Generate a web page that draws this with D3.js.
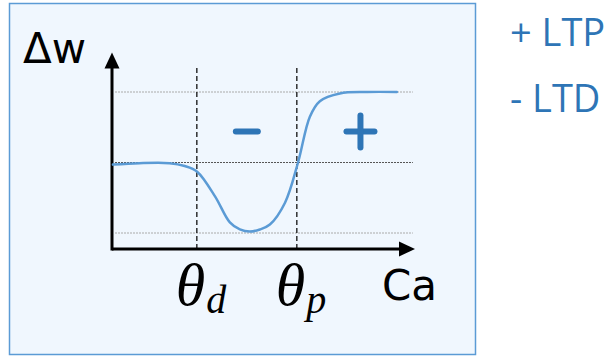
<!DOCTYPE html>
<html>
<head>
<meta charset="utf-8">
<script src="https://cdn.jsdelivr.net/npm/d3@7"></script>
<style>
html,body{margin:0;padding:0;background:#fff;}
svg{display:block;}
</style>
</head>
<body>
<svg id="chart" width="615" height="361"></svg>
<script>
// Data (Ca in arbitrary units 0..100, Δw normalised: -1 = LTD max, +1 = LTP max)
const curveCa = [0.3, 9, 19, 24, 28.1, 34, 38.9, 42.2, 45.5, 48.8, 52.1, 57.1, 61.4, 65.3, 68.6, 75.2, 84.2, 94];
const curveDw = [-0.03, -0.01, -0.01, -0.05, -0.13, -0.48, -0.85, -0.95, -0.98, -0.95, -0.88, -0.57, 0.0, 0.65, 0.87, 0.98, 1.0, 1.0];
const thresholds = [28, 61];
const thresholdNames = ["d", "p"];
const refLevels = [1, 0, -1];
const legendItems = ["+ LTP", "- LTD"];
const regionSigns = [{ca: 44.5, sign: "-"}, {ca: 82, sign: "+"}];

const svg = d3.select("#chart");
const x = d3.scaleLinear().domain([0, 100]).range([112, 415]);
const y = d3.scaleLinear().domain([-1, 1]).range([233, 92]);
const yAxisVal = -1.227, yTop = 1.56;

// box
svg.append("rect").attr("x", 9.5).attr("y", 3.5).attr("width", 466).attr("height", 351)
  .attr("fill", "#f0f7fe").attr("stroke", "#5b9bd5").attr("stroke-width", 1.5);

// reference horizontal lines
svg.selectAll(".ref").data(refLevels).enter().append("line")
  .attr("x1", x(1)).attr("x2", x(99.3))
  .attr("y1", d => y(d)).attr("y2", d => y(d))
  .attr("stroke", d => d === 0 ? "#555" : "#aaa")
  .attr("stroke-width", 1)
  .attr("stroke-dasharray", "2,1");

// threshold dashed lines
svg.selectAll(".thr").data(thresholds).enter().append("line")
  .attr("x1", d => x(d)).attr("x2", d => x(d))
  .attr("y1", 68).attr("y2", y(yAxisVal))
  .attr("stroke", "#111").attr("stroke-width", 1.3)
  .attr("stroke-dasharray", "5,3");

// axes
const ax = svg.append("g");
ax.append("line").attr("x1", x(0)).attr("x2", x(100) - 12)
  .attr("y1", y(yAxisVal)).attr("y2", y(yAxisVal)).attr("stroke", "#000").attr("stroke-width", 3);
ax.append("line").attr("x1", x(0)).attr("x2", x(0))
  .attr("y1", y(yAxisVal) + 1.5).attr("y2", y(yTop) + 12).attr("stroke", "#000").attr("stroke-width", 3);
const ax0 = x(100), ay0 = y(yAxisVal);
ax.append("path").attr("d", `M${ax0},${ay0} L${ax0 - 16},${ay0 - 7.5} L${ax0 - 16},${ay0 + 7.5} Z`).attr("fill", "#000");
const vx = x(0), vy = y(yTop);
ax.append("path").attr("d", `M${vx},${vy} L${vx - 7.5},${vy + 16} L${vx + 7.5},${vy + 16} Z`).attr("fill", "#000");

// curve
const pts = curveCa.map((c, i) => [c, curveDw[i]]);
svg.append("path").datum(pts)
  .attr("d", d3.line().x(d => x(d[0])).y(d => y(d[1])).curve(d3.curveCatmullRom.alpha(0.5)))
  .attr("fill", "none").attr("stroke", "#5b9bd5").attr("stroke-width", 2.5)
  .attr("stroke-linecap", "round");

// region signs
const signY = y(0.44);
regionSigns.forEach(r => {
  const cx = x(r.ca);
  if (r.sign === "-") {
    svg.append("line").attr("x1", cx - 11).attr("x2", cx + 11).attr("y1", signY).attr("y2", signY)
      .attr("stroke", "#2e75b6").attr("stroke-width", 6).attr("stroke-linecap", "round");
  } else {
    svg.append("line").attr("x1", cx - 14).attr("x2", cx + 14).attr("y1", signY).attr("y2", signY)
      .attr("stroke", "#2e75b6").attr("stroke-width", 6).attr("stroke-linecap", "round");
    svg.append("line").attr("x1", cx).attr("x2", cx).attr("y1", signY - 16).attr("y2", signY + 16)
      .attr("stroke", "#2e75b6").attr("stroke-width", 6).attr("stroke-linecap", "round");
  }
});

// axis labels
svg.append("text").attr("x", 23).attr("y", 63).attr("font-family", "DejaVu Sans")
  .attr("font-size", 42).attr("fill", "#000").text("Δw");
svg.append("text").attr("x", 382).attr("y", 300).attr("font-family", "DejaVu Sans")
  .attr("font-size", 42).attr("fill", "#000").text("Ca");

// threshold labels
thresholds.forEach((t, i) => {
  const tx = svg.append("text").attr("x", x(t) - 21).attr("y", 305)
    .attr("font-family", "Liberation Serif, DejaVu Serif, serif").attr("font-style", "italic")
    .attr("fill", "#000");
  tx.append("tspan").attr("font-size", 60).text("θ");
  tx.append("tspan").attr("font-size", 40).attr("dy", 8).attr("dx", 1).text(thresholdNames[i]);
});

// legend
svg.selectAll(".leg").data(legendItems).enter().append("text")
  .attr("x", 510).attr("y", (d, i) => 46 + i * 66)
  .attr("font-family", "Open Sans").attr("font-size", 38)
  .attr("fill", "#2e75b6").text(d => d);
</script>
</body>
</html>
